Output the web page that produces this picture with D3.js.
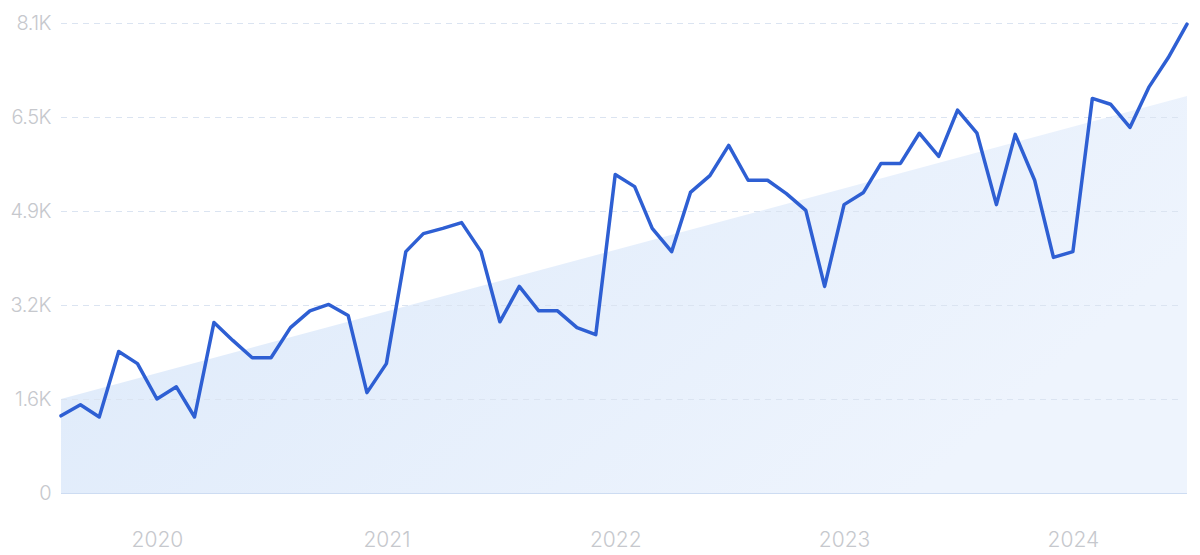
<!DOCTYPE html>
<html>
<head>
<meta charset="utf-8">
<script src="https://cdn.jsdelivr.net/npm/d3@7"></script>
<style>
  html, body { margin: 0; padding: 0; background: #ffffff; }
  svg { display: block; }
</style>
</head>
<body>
<svg id="chart" width="1200" height="555"></svg>
<script>
// ---- data ----
const startMonth = "2019-08";
const values = [
  1330, 1520, 1310, 2440, 2230, 1620, 1830, 1310, 2940, 2630,
  2330, 2330, 2850, 3140, 3250, 3060, 1730, 2230, 4160, 4470,
  4560, 4660, 4160, 2950, 3560, 3140, 3140, 2850, 2730, 5490,
  5280, 4560, 4160, 5180, 5470, 5990, 5390, 5390, 5160, 4870,
  3560, 4970, 5180, 5680, 5680, 6200, 5800, 6600, 6200, 4970,
  6180, 5390, 4060, 4160, 6800, 6700, 6300, 6990, 7500, 8080
];
const trendValues = [1620, 6840];
const yTickValues = [0, 1620, 3240, 4860, 6480, 8100];
const yTickLabels = ["0", "1.6K", "3.2K", "4.9K", "6.5K", "8.1K"];
const xTickYears = ["2020", "2021", "2022", "2023", "2024"];

// ---- layout ----
const svg = d3.select("#chart");
const mLeft = 61, mRight = 1187, mTop = 23, mBottom = 493;

const parseMonth = d3.timeParse("%Y-%m");
const t0 = parseMonth(startMonth);
const dates = values.map((v, i) => d3.timeMonth.offset(t0, i));
const data = values.map((v, i) => ({ date: dates[i], value: v }));

const x = d3.scaleTime()
  .domain([dates[0], dates[dates.length - 1]])
  .range([mLeft, mRight]);
const y = d3.scaleLinear()
  .domain([0, 8100])
  .range([mBottom, mTop]);

// gradient
const defs = svg.append("defs");
const grad = defs.append("linearGradient")
  .attr("id", "areaGrad")
  .attr("x1", "0%").attr("y1", "0%")
  .attr("x2", "100%").attr("y2", "40%");
grad.append("stop").attr("offset", "0%").attr("stop-color", "#dce9fa");
grad.append("stop").attr("offset", "100%").attr("stop-color", "#eef4fd");

// trend area
const trendData = [
  { date: dates[0], value: trendValues[0] },
  { date: dates[dates.length - 1], value: trendValues[1] }
];
svg.append("path")
  .datum(trendData)
  .attr("fill", "url(#areaGrad)")
  .attr("d", d3.area()
    .x(d => x(d.date))
    .y0(y(0))
    .y1(d => y(d.value)));

// gridlines
svg.append("g")
  .selectAll("line")
  .data(yTickValues.slice(1))
  .join("line")
  .attr("x1", mLeft)
  .attr("x2", 1180)
  .attr("y1", d => Math.round(y(d)) + 0.5)
  .attr("y2", d => Math.round(y(d)) + 0.5)
  .attr("stroke", "#dbe4f1")
  .attr("stroke-width", 1)
  .attr("stroke-dasharray", "6,5");

// baseline
svg.append("line")
  .attr("x1", mLeft).attr("x2", mRight)
  .attr("y1", Math.round(y(0)) + 0.5).attr("y2", Math.round(y(0)) + 0.5)
  .attr("stroke", "#cddcf2")
  .attr("stroke-width", 1);

// y labels
const yAxis = d3.axisLeft(y)
  .tickValues(yTickValues)
  .tickFormat((d, i) => yTickLabels[i])
  .tickSize(0)
  .tickPadding(10);
const gy = svg.append("g")
  .attr("transform", `translate(${mLeft},0)`)
  .call(yAxis);
gy.select(".domain").remove();
gy.selectAll("text")
  .attr("fill", "#c6c8cd")
  .style("font-family", "Inter, 'Noto Sans', sans-serif")
  .style("font-size", "20px")
  .style("font-weight", "300")
  .style("letter-spacing", "-0.5px");

// x labels
const yearDates = xTickYears.map(yr => new Date(+yr, 0, 1));
const xAxis = d3.axisBottom(x)
  .tickValues(yearDates)
  .tickFormat((d, i) => xTickYears[i])
  .tickSize(0)
  .tickPadding(0);
const gx = svg.append("g")
  .attr("transform", `translate(0,${mBottom + 39})`)
  .call(xAxis);
gx.select(".domain").remove();
gx.selectAll("text")
  .attr("fill", "#c6c8cd")
  .style("font-family", "Inter, 'Noto Sans', sans-serif")
  .style("font-size", "21px")
  .style("font-weight", "300");

// line
svg.append("path")
  .datum(data)
  .attr("fill", "none")
  .attr("stroke", "#2e5fd3")
  .attr("stroke-width", 3.5)
  .attr("stroke-linejoin", "round")
  .attr("stroke-linecap", "round")
  .attr("d", d3.line()
    .x(d => x(d.date))
    .y(d => y(d.value)));
</script>
</body>
</html>
